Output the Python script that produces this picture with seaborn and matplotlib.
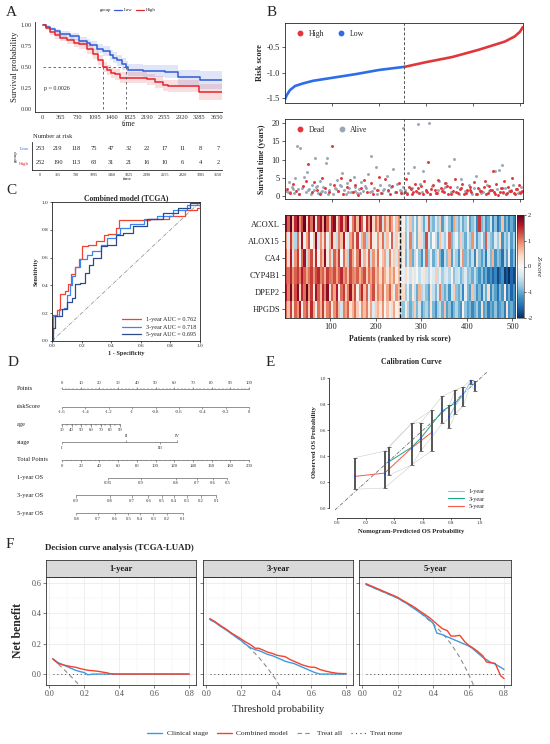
import numpy as np
import pandas as pd
import seaborn as sns
import matplotlib.pyplot as plt
from matplotlib.lines import Line2D

sns.set_theme(style="white")
plt.rcParams['font.family'] = ['Liberation Serif', 'DejaVu Serif']
plt.rcParams['axes.unicode_minus'] = False
plt.rcParams['axes.linewidth'] = 0.6
plt.rcParams['xtick.major.width'] = 0.5
plt.rcParams['ytick.major.width'] = 0.5
plt.rcParams['xtick.major.size'] = 2
plt.rcParams['ytick.major.size'] = 2

# ---------------- A: Kaplan-Meier ----------------
km_time_low = [0, 80, 153, 260, 364, 573, 762, 922, 1000, 1133, 1273, 1412, 1480, 1552, 1657, 1748, 1797, 2112, 2566, 2846, 3300, 3760]
km_surv_low = [1.00, 0.98, 0.96, 0.93, 0.90, 0.87, 0.81, 0.79, 0.76, 0.72, 0.69, 0.64, 0.61, 0.58, 0.54, 0.50, 0.46, 0.45, 0.44, 0.38, 0.34, 0.34]
km_lo_low = [1.00, 0.965, 0.94, 0.90, 0.865, 0.83, 0.765, 0.74, 0.71, 0.665, 0.63, 0.58, 0.545, 0.515, 0.47, 0.43, 0.39, 0.38, 0.365, 0.29, 0.24, 0.24]
km_hi_low = [1.00, 1.00, 0.985, 0.96, 0.935, 0.91, 0.855, 0.84, 0.81, 0.775, 0.75, 0.70, 0.675, 0.645, 0.61, 0.57, 0.535, 0.525, 0.52, 0.47, 0.45, 0.45]

km_time_high = [0, 60, 153, 250, 364, 503, 650, 762, 922, 1063, 1168, 1259, 1343, 1430, 1517, 1622, 2182, 2357, 2531, 2636, 3286, 3760]
km_surv_high = [1.00, 0.97, 0.92, 0.88, 0.85, 0.82, 0.79, 0.77, 0.72, 0.66, 0.58, 0.50, 0.46, 0.43, 0.41, 0.37, 0.35, 0.32, 0.28, 0.27, 0.20, 0.20]
km_lo_high = [1.00, 0.95, 0.89, 0.84, 0.81, 0.775, 0.74, 0.715, 0.66, 0.60, 0.52, 0.44, 0.40, 0.37, 0.345, 0.305, 0.285, 0.25, 0.21, 0.20, 0.11, 0.11]
km_hi_high = [1.00, 0.99, 0.95, 0.92, 0.89, 0.865, 0.84, 0.825, 0.78, 0.72, 0.64, 0.56, 0.52, 0.49, 0.475, 0.435, 0.415, 0.39, 0.35, 0.34, 0.30, 0.30]

median_high, median_low = 1259, 1748
p_text = "p = 0.0026"

risk_times = [0, 365, 730, 1095, 1460, 1825, 2190, 2555, 2920, 3285, 3650]
at_risk_low = [253, 219, 118, 75, 47, 32, 22, 17, 11, 8, 7]
at_risk_high = [252, 190, 113, 63, 31, 21, 16, 10, 6, 4, 2]

# ---------------- B: risk score, survival status, heatmap ----------------
risk_idx_low = [1, 4, 11, 22, 39, 60, 102, 151, 200, 253]
risk_val_low = [-1.51, -1.44, -1.34, -1.26, -1.21, -1.16, -1.10, -1.03, -0.95, -0.89]
risk_idx_high = [254, 299, 355, 411, 467, 488, 499, 503, 505]
risk_val_high = [-0.89, -0.80, -0.70, -0.56, -0.40, -0.30, -0.21, -0.15, -0.12]

alive_idx = [3, 8, 12, 15, 19, 22, 26, 29, 33, 36, 40, 44, 47, 52, 55, 58, 62, 64, 68, 71, 75, 79, 82, 85, 88, 90, 94, 97,
             102, 106, 110, 113, 117, 121, 125, 129, 133, 137, 141, 146, 150, 154, 158, 162, 167, 171, 176, 180, 184, 189,
             193, 198, 202, 207, 211, 216, 220, 225, 230, 234, 239, 244, 248, 250, 251, 256, 262, 268, 274, 280, 283, 288,
             294, 300, 305, 312, 320, 328, 335, 343, 348, 352, 359, 366, 374, 382, 390, 398, 405, 413, 421, 430, 438, 446,
             455, 460, 468, 476, 485, 494, 502,
             6, 17, 31, 49, 66, 77, 92, 108, 119, 135, 148, 160, 173, 186, 196, 209, 222, 237, 246, 259, 271, 291, 309, 325,
             339, 355, 370, 386, 402, 417, 434, 450, 464, 481, 498]
alive_yrs = [1.5, 3.8, 1.2, 2.6, 0.8, 5.0, 13.7, 1.9, 13.2, 2.3, 5.1, 1.1, 6.5, 2.0, 0.6, 3.1, 1.7, 10.4, 2.8, 0.9, 4.2, 1.4, 2.5, 1.0,
             9.0, 10.4, 1.8, 3.3, 0.7, 2.2, 4.5, 1.3, 2.9, 6.3, 1.6, 0.5, 3.6, 2.1, 1.2, 5.3, 2.4, 0.9, 1.9, 3.9, 1.4, 2.7, 6.0,
             1.0, 11.0, 2.3, 8.0, 1.6, 3.0, 0.8, 2.0, 5.4, 1.3, 2.6, 7.5, 1.1, 3.4, 1.8, 0.9, 18.6, 2.4, 1.7, 6.2, 2.3, 7.9, 1.0,
             19.7, 3.2, 7.0, 1.5, 20.0, 2.8, 0.8, 4.0, 1.9, 3.5, 8.3, 1.2, 10.1, 2.6, 4.6, 1.4, 2.9, 0.7, 5.5, 2.0, 1.1, 3.1,
             1.6, 6.8, 7.2, 8.5, 2.2, 1.3, 3.0, 0.9, 2.5,
             1.1, 2.0, 0.7, 1.6, 2.4, 1.2, 0.5, 1.9, 2.7, 1.0, 1.5, 0.8, 2.2, 1.3, 0.6, 1.7, 2.9, 1.1, 1.4, 0.9, 2.1, 1.2, 0.6,
             1.8, 2.6, 1.0, 0.7, 1.5, 2.3, 0.9, 1.3, 2.0, 0.8, 1.6, 1.1]
dead_idx = [5, 11, 17, 24, 31, 38, 45, 50, 57, 63, 69, 74, 80, 86, 93, 100, 105, 112, 119, 124, 131, 138, 144, 149, 156, 161,
            169, 174, 182, 187, 195, 200, 205, 213, 218, 223, 228, 236, 242, 247,
            255, 258, 264, 270, 276, 279, 285, 290, 296, 302, 304, 308, 314, 318, 323, 326, 331, 338, 341, 346, 350, 356, 362,
            367, 371, 377, 380, 386, 392, 396, 402, 408, 411, 417, 424, 427, 433, 436, 441, 444, 449, 452, 458, 463, 466, 471,
            474, 479, 482, 488, 491, 496, 499, 504,
            260, 267, 273, 282, 293, 299, 311, 321, 333, 344, 353, 364, 375, 384, 394, 405, 415, 422, 431, 439, 447, 456, 461,
            469, 477, 486, 493, 501]
dead_yrs = [2.0, 0.9, 3.2, 1.4, 0.5, 2.7, 4.0, 8.8, 1.1, 3.9, 1.7, 0.6, 4.9, 2.2, 1.0, 13.7, 3.0, 1.5, 5.0, 0.7, 2.4, 4.4, 1.2,
            3.0, 0.4, 2.1, 4.5, 1.0, 3.5, 0.6, 1.8, 5.2, 0.9, 4.8, 1.6, 0.5, 2.8, 1.2, 3.7, 0.8,
            1.1, 4.7, 2.4, 0.6, 3.3, 1.5, 0.8, 2.7, 4.2, 1.2, 9.3, 0.5, 3.0, 1.8, 0.9, 4.4, 2.2, 1.0, 3.6, 0.6, 2.5, 1.4, 4.8,
            0.8, 2.0, 3.2, 0.5, 1.6, 2.6, 1.0, 3.8, 0.7, 2.3, 1.3, 4.1, 0.6, 2.8, 1.7, 7.0, 1.0, 3.4, 0.4, 2.1, 1.2, 4.0, 0.8,
            2.6, 1.5, 5.0, 0.6, 1.9, 3.1, 0.9, 1.4,
            0.7, 1.9, 1.2, 2.3, 0.5, 1.6, 2.0, 0.9, 1.4, 2.7, 0.6, 1.1, 2.2, 0.8, 1.7, 0.5, 1.3, 2.4, 0.9, 1.8, 0.6, 1.2, 2.1,
            0.7, 1.5, 0.9, 2.0, 1.1]

genes = ['ACOXL', 'ALOX15', 'CA4', 'CYP4B1', 'DPEP2', 'HPGDS']
z_acoxl = [1.8, 1.2, 2.0, 0.6, 1.5, 1.9, 0.9, 1.3, 2.0, 0.4, 1.6, 1.1, 1.9, 0.2, 1.4, 1.7, 0.8, 2.0, 1.2, 0.5,
           1.5, 1.8, 0.3, 1.1, 1.6, 0.7, 1.3, 1.9, -0.2, 1.0, 1.4, 0.6, 1.7, 1.2, 0.1, 1.5, 0.9, 1.8, 0.4, 1.1,
           0.7, 1.3, -0.4, 1.0, 0.5, 1.2, 0.8, -0.1, 0.6, 0.9,
           -0.4, 0.1, -0.7, -0.3, 0.6, -0.8, -0.2, -0.9, 0.3, -0.5, -1.0, -0.4, 1.2, -0.6, -0.9, -0.3, -0.7, 0.5, -1.1, -0.5,
           -0.2, -0.8, -1.2, 0.8, -0.6, -0.9, -0.4, -1.0, -0.7, 0.2, -1.1, -0.8, -0.5, -1.3, 1.4, -0.9, -0.6, -1.2, -1.0, -0.4,
           -1.3, -0.8, -1.5, -1.1, 0.6, -1.2, -0.9, -1.4, -1.0, -1.3]
z_alox15 = [0.9, -0.3, 1.4, 0.5, -0.6, 1.1, 0.2, 1.7, -0.2, 0.8, 1.3, 0.0, 0.6, 1.8, -0.4, 0.9, 0.3, 1.2, -0.1, 0.7,
            1.5, 0.4, -0.5, 1.0, 0.6, 1.6, 0.1, -0.3, 0.8, 1.2, 0.3, 1.4, -0.2, 0.7, 1.0, -0.6, 0.5, 1.3, 0.2, -0.1,
            0.9, 0.4, 1.1, -0.4, 0.6, 0.0, 1.2, -0.3, 0.5, 0.2,
            -0.5, 0.3, -0.8, -0.2, 1.0, -0.6, -0.1, -0.9, 0.4, -0.4, -0.7, 1.3, -0.3, -0.8, 0.0, -0.5, -1.0, 0.6, -0.4, -0.7,
            -0.2, 1.1, -0.9, -0.5, -0.1, -0.8, 0.5, -0.6, -1.0, -0.3, -0.7, 0.9, -0.4, -1.1, -0.6, -0.2, -0.9, 1.2, -0.5, -0.8,
            -1.0, -0.3, -0.7, 0.4, -1.2, -0.6, -0.9, -0.4, -1.1, -0.7]
z_ca4 = [1.2, 0.4, 1.6, -0.3, 0.9, 1.4, 0.1, 1.1, 1.7, -0.5, 0.8, 1.3, 0.3, 1.5, -0.1, 1.0, 0.6, 1.8, 0.2, 0.9,
         -0.4, 1.2, 0.7, 1.4, 0.0, 1.1, 0.5, -0.6, 1.3, 0.8, 0.2, 1.0, 1.5, -0.2, 0.7, 0.3, 1.2, -0.5, 0.9, 0.4,
         1.1, -0.1, 0.6, 0.8, -0.3, 1.0, 0.2, 0.5, -0.4, 0.7,
         -0.6, 0.2, -0.9, -0.3, 0.8, -1.0, -0.5, 0.1, -0.8, -1.2, -0.4, 1.1, -0.7, -0.2, -1.0, -0.6, 0.4, -0.9, -1.3, -0.5,
         -0.8, 0.6, -1.1, -0.4, -0.7, -1.2, -0.3, 0.9, -0.9, -0.6, -1.0, -0.5, -1.3, 0.3, -0.8, -1.1, -0.7, -1.4, -0.4, -0.9,
         0.7, -1.2, -0.8, -1.0, -1.5, -0.6, -1.1, 0.2, -1.3, -0.9]
z_cyp4b1 = [1.3, 1.1, 1.5, 0.9, 1.2, 1.4, 1.0, 1.6, 1.2, 0.8, 1.1, 1.4, 0.9, 1.3, 1.5, 1.0, 1.2, 0.7, 1.4, 1.1,
            1.0, 1.3, 0.8, 1.2, 1.5, 0.9, 1.1, 0.6, 1.3, 1.0, 0.9, 1.2, 0.7, 1.0, 1.3, 0.5, 1.1, 0.8, 1.2, 0.6,
            0.9, 0.4, 1.0, 0.7, 0.3, 0.8, 0.5, 0.9, 0.2, 0.6,
            0.1, -0.2, 0.4, -0.1, -0.4, 0.2, -0.3, 0.0, -0.5, -0.2, 0.3, -0.4, -0.6, -0.1, -0.3, 0.5, -0.5, -0.2, -0.7, -0.4,
            -0.3, -0.6, 0.1, -0.8, -0.5, -0.4, -0.9, -0.6, -0.3, -0.8, -0.7, -1.0, -0.5, -0.9, -1.2, -0.8, -1.3, -1.0, -1.5, -1.2,
            -1.6, -1.3, -1.8, -1.5, -1.2, -1.9, -1.7, -2.0, -1.6, -1.8]
z_dpep2 = [1.6, 1.0, 1.9, 0.7, 1.3, 1.8, 0.4, 1.5, 1.1, 2.0, 0.9, 1.4, 0.2, 1.7, 1.2, 0.6, 1.5, 1.0, 1.8, 0.3,
           1.2, 0.8, 1.6, -0.1, 1.1, 1.4, 0.5, 1.0, 1.7, 0.7, 1.3, 0.1, 1.0, 1.5, 0.6, 1.2, -0.3, 0.9, 1.3, 0.4,
           1.0, 0.7, 1.1, 0.2, 0.8, 1.2, 0.5, -0.2, 0.9, 0.6,
           -0.3, 0.4, -0.7, -0.2, -0.9, 0.2, -0.5, -1.0, 0.7, -0.6, -0.4, -0.8, -1.1, 0.3, -0.5, -0.9, -0.3, 1.0, -0.7, -1.0,
           -0.6, -1.2, -0.4, 0.5, -0.8, -1.0, -0.6, -1.3, -0.2, -0.9, -1.1, 0.6, -0.7, -1.2, -0.9, -1.4, -0.5, -1.0, 0.4, -1.3,
           -0.8, -1.1, -1.5, -0.9, -1.2, 0.2, -1.4, -1.0, -1.6, -1.2]
z_hpgds = [1.1, 0.6, 1.4, 0.3, 1.2, 0.9, 1.6, 0.1, 1.0, 1.3, 0.5, 1.5, 0.8, -0.2, 1.1, 0.7, 1.4, 0.4, 1.0, 1.2,
           0.2, 0.9, 1.3, 0.6, -0.4, 1.0, 0.8, 1.2, 0.3, 0.7, 1.1, 0.5, -0.1, 0.9, 0.6, 1.0, 0.2, 0.8, -0.3, 0.5,
           0.7, 0.3, 0.9, 0.0, 0.6, -0.2, 0.4, 0.8, 0.1, 0.3,
           -0.5, -0.8, 0.2, -0.6, -1.0, -0.7, 0.5, -0.9, -0.4, -1.1, -0.8, -0.6, -1.0, 0.3, -0.9, -1.2, -0.7, -0.5, -1.0, 0.6,
           -1.1, -0.8, -1.3, -0.9, -0.6, -1.0, -1.2, 0.1, -0.8, -1.1, -0.9, -1.3, -1.0, -0.7, -1.2, 0.4, -1.1, -0.9, -1.4, -1.0,
           -1.2, -0.8, -1.3, -1.1, -0.9, -1.4, 0.3, -1.2, -1.0, -1.3]

# ---------------- C: ROC ----------------
roc1_fpr = [0.0, 0.0, 0.01, 0.034, 0.056, 0.09, 0.11, 0.13, 0.157, 0.18, 0.20, 0.24, 0.30, 0.35, 0.38, 0.43, 0.45, 0.64, 0.66, 0.79, 0.90, 0.98, 1.0]
roc1_tpr = [0.0, 0.16, 0.19, 0.22, 0.34, 0.36, 0.41, 0.48, 0.53, 0.59, 0.68, 0.69, 0.72, 0.76, 0.77, 0.81, 0.87, 0.87, 0.88, 0.90, 0.94, 0.96, 1.0]
roc3_fpr = [0.0, 0.0, 0.01, 0.045, 0.08, 0.10, 0.12, 0.135, 0.157, 0.19, 0.236, 0.27, 0.33, 0.37, 0.43, 0.46, 0.53, 0.62, 0.71, 0.82, 0.91, 1.0]
roc3_tpr = [0.0, 0.06, 0.18, 0.23, 0.24, 0.33, 0.40, 0.47, 0.53, 0.59, 0.62, 0.65, 0.69, 0.74, 0.77, 0.81, 0.84, 0.875, 0.90, 0.94, 0.975, 1.0]
roc5_fpr = [0.0, 0.01, 0.022, 0.067, 0.10, 0.135, 0.157, 0.19, 0.225, 0.247, 0.28, 0.33, 0.37, 0.43, 0.48, 0.55, 0.64, 0.75, 0.85, 0.93, 1.0]
roc5_tpr = [0.0, 0.09, 0.18, 0.23, 0.28, 0.31, 0.41, 0.42, 0.49, 0.55, 0.60, 0.68, 0.69, 0.76, 0.78, 0.83, 0.88, 0.92, 0.96, 0.99, 1.0]
roc_labels = ['1-year AUC = 0.762', '3-year AUC = 0.718', '5-year AUC = 0.695']

# ---------------- D: nomogram ----------------
nomo_rows = ['Points', 'riskScore', 'age', 'stage', 'Total Points', '1-year OS', '3-year OS', '5-year OS']
points_ticks = [0, 10, 20, 30, 40, 50, 60, 70, 80, 90, 100]
risk_ticks = [-1.6, -1.4, -1.2, -1, -0.8, -0.6, -0.4, -0.2, 0]
age_ticks = [30, 40, 50, 60, 70, 80, 90]
stage_labels = ['I', 'II', 'III', 'IV']
stage_points = [0, 34.3, 52.4, 61.6]
total_ticks = [0, 20, 40, 60, 80, 100, 120, 140, 160, 180, 200]
os1_labels = ['0.95', '0.9', '0.8', '0.7', '0.6', '0.5']
os1_total = [48.7, 84.2, 121.5, 144.7, 161.7, 176.9]
os3_labels = ['0.9', '0.8', '0.7', '0.6', '0.5', '0.4', '0.3', '0.2', '0.1']
os3_total = [15.3, 51.5, 74.6, 92.4, 106.6, 119.7, 133.9, 148.5, 165.1]
os5_labels = ['0.8', '0.7', '0.6', '0.5', '0.4', '0.3', '0.2', '0.1']
os5_total = [15.3, 38.4, 56.8, 71.0, 83.5, 97.7, 112.3, 129.3]

# ---------------- E: calibration ----------------
cal1_pred = [0.786, 0.826, 0.884, 0.935, 0.965]
cal1_obs = [0.705, 0.79, 0.877, 0.98, 0.944]
cal3_pred = [0.367, 0.523, 0.586, 0.737, 0.826, 0.884]
cal3_obs = [0.36, 0.47, 0.54, 0.75, 0.81, 0.877]
cal5_pred = [0.128, 0.333, 0.523, 0.663]
cal5_obs = [0.245, 0.27, 0.465, 0.585]
bar_pred = [0.128, 0.333, 0.367, 0.523, 0.586, 0.663, 0.737, 0.786, 0.826, 0.884, 0.935, 0.965]
bar_obs = [0.245, 0.26, 0.37, 0.465, 0.54, 0.585, 0.75, 0.705, 0.81, 0.877, 0.98, 0.944]
bar_lo = [0.146, 0.155, 0.256, 0.333, 0.44, 0.444, 0.654, 0.62, 0.726, 0.79, 0.96, 0.90]
bar_hi = [0.39, 0.44, 0.474, 0.654, 0.66, 0.756, 0.864, 0.795, 0.91, 0.936, 0.99, 0.98]

# ---------------- F: decision curves ----------------
dca_thr = [0.02, 0.05, 0.08, 0.10, 0.12, 0.15, 0.18, 0.20, 0.22, 0.25, 0.28, 0.30, 0.33, 0.35, 0.38, 0.40,
           0.42, 0.45, 0.48, 0.50, 0.52, 0.55, 0.58, 0.60, 0.62, 0.65, 0.68, 0.70, 0.72, 0.75, 0.78, 0.80]
clin_1y = [0.10, 0.075, 0.06, 0.05, 0.04, 0.025, 0.015, 0.01, -0.005, 0, 0, 0, 0, 0, 0, 0,
           0, 0, 0, 0, 0, 0, 0, 0, 0, 0, 0, 0, 0, 0, 0, 0]
comb_1y = [0.10, 0.07, 0.06, 0.055, 0.05, 0.045, 0.035, 0.03, 0.025, 0.022, 0.018, 0.014, 0.008, 0.002, 0, 0,
           0, 0, 0, 0, 0, 0, 0, 0, 0, 0, 0, 0, 0, 0, 0, 0]
clin_3y = [0.36, 0.34, 0.315, 0.30, 0.285, 0.26, 0.235, 0.22, 0.20, 0.175, 0.16, 0.155, 0.14, 0.13, 0.12, 0.11,
           0.10, 0.085, 0.075, 0.07, 0.06, 0.045, 0.03, 0.02, 0.01, 0.0, 0, 0, 0, 0, 0, 0]
comb_3y = [0.365, 0.345, 0.32, 0.305, 0.29, 0.265, 0.245, 0.23, 0.215, 0.195, 0.17, 0.17, 0.155, 0.145, 0.135, 0.125,
           0.12, 0.115, 0.095, 0.085, 0.075, 0.06, 0.05, 0.045, 0.045, 0.03, 0.02, 0.015, 0.01, 0.005, 0.003, 0.003]
clin_5y = [0.59, 0.575, 0.56, 0.55, 0.54, 0.525, 0.51, 0.50, 0.485, 0.465, 0.44, 0.425, 0.40, 0.385, 0.355, 0.335,
           0.27, 0.26, 0.245, 0.235, 0.225, 0.21, 0.195, 0.185, 0.17, 0.14, 0.11, 0.095, 0.08, 0.065, 0.045, 0.03]
comb_5y = [0.595, 0.58, 0.565, 0.555, 0.545, 0.53, 0.515, 0.505, 0.49, 0.47, 0.45, 0.435, 0.41, 0.395, 0.37, 0.35,
           0.33, 0.30, 0.285, 0.25, 0.25, 0.255, 0.21, 0.19, 0.175, 0.15, 0.12, 0.08, 0.075, 0.07, -0.01, -0.03]
all_1y_x = [0.02, 0.10, 0.15, 0.20]
all_1y_y = [0.10, 0.012, -0.047, -0.11]
all_3y_x = [0.02, 0.10, 0.20, 0.25, 0.30, 0.35, 0.375, 0.40, 0.42]
all_3y_y = [0.36, 0.305, 0.22, 0.17, 0.11, 0.04, 0.0, -0.04, -0.08]
all_5y_x = [0.02, 0.20, 0.30, 0.40, 0.45, 0.50, 0.55, 0.60, 0.63]
all_5y_y = [0.59, 0.50, 0.43, 0.33, 0.27, 0.20, 0.11, 0.0, -0.08]
dca_panels = ['1-year', '3-year', '5-year']

# =====================================================================
W, H = 550, 744
fig = plt.figure(figsize=(5.5, 7.44), dpi=100)


def box(l, t, r, b):
    return fig.add_axes([l / W, 1 - b / H, (r - l) / W, (b - t) / H])


def ftext(x, y, s, **kw):
    fig.text(x / W, 1 - y / H, s, **kw)


for lab, x, y in [('A', 6, 13), ('B', 267, 13), ('C', 6, 190), ('D', 8, 363), ('E', 266, 363), ('F', 6, 545)]:
    ftext(x, y, lab, fontsize=11, va='center', ha='left')

BLUE_KM, RED_KM = '#2F5BD6', '#E3262E'

# ---- A: KM ----
ax = box(35, 22, 222, 112)
ax.fill_between(km_time_low, km_lo_low, km_hi_low, step='post', color=BLUE_KM, alpha=0.15, lw=0)
ax.fill_between(km_time_high, km_lo_high, km_hi_high, step='post', color=RED_KM, alpha=0.15, lw=0)
sns.lineplot(x=km_time_low, y=km_surv_low, ax=ax, color=BLUE_KM, lw=1.1, drawstyle='steps-post',
             estimator=None, sort=False)
sns.lineplot(x=km_time_high, y=km_surv_high, ax=ax, color=RED_KM, lw=1.1, drawstyle='steps-post',
             estimator=None, sort=False)
ax.plot([0, median_low], [0.5, 0.5], ls=(0, (3, 3)), color='#555555', lw=0.6)
for m in (median_high, median_low):
    ax.plot([m, m], [0, 0.5], ls=(0, (3, 3)), color='#555555', lw=0.6)
ax.text(20, 0.24, p_text, fontsize=4.3, va='center')
ax.set_xlim(-161, 3761)
ax.set_ylim(-0.04, 1.04)
ax.set_xticks(risk_times)
ax.set_yticks([0, 0.25, 0.5, 0.75, 1.0])
ax.set_yticklabels(['0.00', '0.25', '0.50', '0.75', '1.00'])
ax.tick_params(labelsize=4.6, pad=1, length=1.5, colors='#333333')
sns.despine(ax=ax)
ax.set_xlabel('time', fontsize=5.6, labelpad=0)
ax.set_ylabel('Survival probability', fontsize=6.2, labelpad=1)
ftext(100, 10, 'group', fontsize=3.5, va='center')
ax.legend([Line2D([], [], color=BLUE_KM, lw=0.9), Line2D([], [], color=RED_KM, lw=0.9)], ['Low', 'High'],
          loc='center left', bbox_to_anchor=((112 - 35) / 187, 1 + 12 / 90), ncol=2, frameon=False,
          fontsize=3.5, handlelength=1.6, handletextpad=0.3, columnspacing=0.8, borderpad=0)

# risk table
axt = box(32, 142, 222, 170)
for t, n in zip(risk_times, at_risk_low):
    axt.text(t, 1, str(n), ha='center', va='center', fontsize=4.6)
for t, n in zip(risk_times, at_risk_high):
    axt.text(t, 0, str(n), ha='center', va='center', fontsize=4.6)
axt.set_xlim(-164, 3726)
axt.set_ylim(-0.5, 1.5)
axt.set_xticks(risk_times)
axt.set_yticks([1, 0])
axt.set_yticklabels(['Low', 'High'])
for lbl, c in zip(axt.get_yticklabels(), [BLUE_KM, RED_KM]):
    lbl.set_color(c)
axt.tick_params(axis='x', labelsize=3.0, pad=1, length=1.2)
axt.tick_params(axis='y', labelsize=3.6, pad=1, length=1.2)
sns.despine(ax=axt)
axt.set_xlabel('time', fontsize=3.6, labelpad=0)
axt.set_ylabel('group', fontsize=3.6, labelpad=1)
ftext(33, 136, 'Number at risk', fontsize=4.7, va='center')

# ---- B: risk score ----
RED_B, BLUE_B, GREY_B = '#E0383A', '#2C6EE8', '#9AA6B4'
cut = risk_idx_low[-1] + 0.5
axr = box(285, 23, 523, 103)
sns.lineplot(x=risk_idx_low, y=risk_val_low, ax=axr, color=BLUE_B, lw=1.9, estimator=None)
sns.lineplot(x=risk_idx_high, y=risk_val_high, ax=axr, color=RED_B, lw=1.9, estimator=None)
axr.axvline(cut, color='#555555', ls=(0, (3, 2)), lw=0.7)
axr.set_xlim(0.5, 505.5)
axr.set_ylim(-1.59, -0.04)
axr.set_xticks([100, 200, 300, 400, 500])
axr.set_xticklabels([])
axr.set_yticks([-1.5, -1.0, -0.5])
axr.tick_params(labelsize=6, pad=1.5, length=2, left=True, bottom=True, colors='#222222')
axr.set_ylabel('Risk score', fontsize=6, fontweight='bold', labelpad=2)
axr.legend([Line2D([], [], marker='o', ls='', color=RED_B, ms=3.2),
            Line2D([], [], marker='o', ls='', color=BLUE_B, ms=3.2)], ['High', 'Low'],
           loc='upper left', ncol=2, frameon=False, fontsize=5.6, handletextpad=0.1,
           columnspacing=1.2, borderaxespad=0.5, bbox_to_anchor=(0.0, 1.0))

# survival status
axs = box(285, 119, 523, 199)
sns.scatterplot(x=alive_idx, y=alive_yrs, ax=axs, color=GREY_B, s=4.5, linewidth=0)
sns.scatterplot(x=dead_idx, y=dead_yrs, ax=axs, color=RED_B, s=4.5, linewidth=0)
axs.axvline(cut, color='#555555', ls=(0, (3, 2)), lw=0.7)
axs.set_xlim(0.5, 505.5)
axs.set_ylim(-0.8, 21.1)
axs.set_xticks([100, 200, 300, 400, 500])
axs.set_xticklabels([])
axs.set_yticks([0, 5, 10, 15, 20])
axs.tick_params(labelsize=6, pad=1.5, length=2, left=True, bottom=True, colors='#222222')
axs.set_ylabel('Survival time (years)', fontsize=5.6, fontweight='bold', labelpad=4)
axs.legend([Line2D([], [], marker='o', ls='', color=RED_B, ms=3.2),
            Line2D([], [], marker='o', ls='', color=GREY_B, ms=3.2)], ['Dead', 'Alive'],
           loc='upper left', ncol=2, frameon=False, fontsize=5.6, handletextpad=0.1,
           columnspacing=1.2, borderaxespad=0.5)

# heatmap
axh = box(285, 215, 515, 318)
cax = box(517, 215, 524, 318)
zmat = np.array([z_acoxl, z_alox15, z_ca4, z_cyp4b1, z_dpep2, z_hpgds])
xedges = np.linspace(0.5, 505.5, zmat.shape[1] + 1)
yedges = np.arange(len(genes) + 1) - 0.5
cmap = sns.color_palette('RdBu_r', as_cmap=True)
mesh = axh.pcolormesh(xedges, yedges, zmat, cmap=cmap, vmin=-2, vmax=2, shading='flat')
axh.set_ylim(len(genes) - 0.5, -0.5)
axh.set_xlim(0.5, 505.5)
axh.axvline(cut, color='#111111', ls=(0, (3, 1.5)), lw=1.0)
axh.set_yticks(range(len(genes)))
axh.set_yticklabels(genes)
axh.set_xticks([100, 200, 300, 400, 500])
axh.tick_params(labelsize=6, pad=1.5, length=2, left=True, bottom=True, colors='#222222')
axh.set_xlabel('Patients (ranked by risk score)', fontsize=5.6, fontweight='bold', labelpad=3)
cb = fig.colorbar(mesh, cax=cax, ticks=[-2, -1, 0, 1, 2])
cb.outline.set_linewidth(0.4)
cax.tick_params(labelsize=4.6, length=1.5, pad=1)
cb.set_label('Z-score', fontsize=5, rotation=270, labelpad=6, style='italic')

# ---- C: ROC ----
axc = box(52, 202, 200, 341)
axc.plot([0, 1], [0, 1], color='#888888', lw=0.5, ls=(0, (6, 2, 1, 2)))
for fpr, tpr, col in [(roc1_fpr, roc1_tpr, '#F2432F'), (roc3_fpr, roc3_tpr, '#3A86F0'),
                      (roc5_fpr, roc5_tpr, '#2C4A8C')]:
    sns.lineplot(x=fpr, y=tpr, ax=axc, color=col, lw=0.9, drawstyle='steps-post', estimator=None, sort=False)
axc.set_xlim(0, 1)
axc.set_ylim(0, 1)
axc.set_xticks([0, 0.2, 0.4, 0.6, 0.8, 1.0])
axc.set_yticks([0, 0.2, 0.4, 0.6, 0.8, 1.0])
axc.tick_params(labelsize=3.8, pad=1, length=1.5, left=True, bottom=True, colors='#222222')
for sp in axc.spines.values():
    sp.set_color('#222222')
    sp.set_linewidth(0.6)
axc.set_title('Combined model (TCGA)', fontsize=5.5, fontweight='bold', pad=1.5)
axc.set_xlabel('1 - Specificity', fontsize=4.5, fontweight='bold', labelpad=1.5)
axc.set_ylabel('Sensitivity', fontsize=4.6, fontweight='bold', labelpad=2)
axc.legend([Line2D([], [], color=c, lw=0.9) for c in ['#F2432F', '#3A86F0', '#2C4A8C']], roc_labels,
           loc='lower right', frameon=False, fontsize=4.4, handlelength=3.2, borderaxespad=0.2,
           labelspacing=0.35)

# ---- D: nomogram ----
axn = box(62, 380, 249, 522)
axn.set_xlim(0, 100)
axn.set_ylim(7.5, -0.5)
axn.axis('off')
LC = '#555555'
for i, name in enumerate(nomo_rows):
    axn.text(-24.3, i, name, ha='left', va='center', fontsize=4.6, color='#222222')


def scale_row(row, xs, labels, above=False, minor=None):
    axn.plot([min(xs), max(xs)], [row, row], color=LC, lw=0.45, clip_on=False)
    d = -1 if above else 1
    axn.vlines(xs, row, row + d * 0.13, color=LC, lw=0.4, clip_on=False)
    if minor is not None:
        axn.vlines(minor, row, row + d * 0.07, color=LC, lw=0.3, clip_on=False)
    for x, s in zip(xs, labels):
        axn.text(x, row + d * 0.32, s, ha='center', va='center', fontsize=3.4, color='#333333', clip_on=False)


scale_row(0, points_ticks, [str(v) for v in points_ticks], above=True, minor=np.arange(0, 101, 2))
scale_row(1, [(v + 1.6) / 1.6 * 100 for v in risk_ticks], ['-1.6', '-1.4', '-1.2', '-1', '-0.8', '-0.6', '-0.4', '-0.2', '0'])
scale_row(2, [(v - 30) / 60 * 31 for v in age_ticks], [str(v) for v in age_ticks],
          minor=[(v - 30) / 60 * 31 for v in range(30, 91, 5)])
# stage: II and IV above, I and III below
axn.plot([stage_points[0], stage_points[-1]], [3, 3], color=LC, lw=0.45)
for k, (x, s) in enumerate(zip(stage_points, stage_labels)):
    d = -1 if k % 2 == 1 else 1
    axn.vlines(x, 3, 3 + d * 0.13, color=LC, lw=0.4)
    axn.text(x, 3 + d * 0.32, s, ha='center', va='center', fontsize=3.4, color='#333333')
scale_row(4, [t / 2 for t in total_ticks], [str(v) for v in total_ticks], minor=np.arange(0, 101, 2.5))
scale_row(5, [t / 2 for t in os1_total], os1_labels)
scale_row(6, [t / 2 for t in os3_total], os3_labels)
scale_row(7, [t / 2 for t in os5_total], os5_labels)

# ---- E: calibration ----
axe = box(335, 372, 488, 512)
axe.plot([-0.05, 1.1], [-0.05, 1.1], color='#555555', lw=0.5, ls=(0, (5, 2, 1, 2)))
for x_, lo_, hi_ in [(cal5_pred, [0.146, 0.155, 0.333, 0.444], [0.39, 0.44, 0.654, 0.756]),
                     (cal3_pred, [0.256, 0.333, 0.44, 0.654, 0.726, 0.79], [0.474, 0.654, 0.66, 0.864, 0.91, 0.936]),
                     (cal1_pred, [0.62, 0.726, 0.79, 0.96, 0.90], [0.795, 0.91, 0.936, 0.99, 0.98])]:
    axe.plot(x_, lo_, color='#CCCCCC', lw=0.4)
    axe.plot(x_, hi_, color='#CCCCCC', lw=0.4)
COL1, COL3, COL5 = '#86C8EA', '#1AA58B', '#F25A4A'
sns.lineplot(x=cal5_pred, y=cal5_obs, ax=axe, color=COL5, lw=0.7, estimator=None)
sns.lineplot(x=cal3_pred, y=cal3_obs, ax=axe, color=COL3, lw=0.7, estimator=None)
sns.lineplot(x=cal1_pred, y=cal1_obs, ax=axe, color=COL1, lw=0.7, estimator=None)
err = np.array([np.subtract(bar_obs, bar_lo), np.subtract(bar_hi, bar_obs)])
axe.errorbar(bar_pred, bar_obs, yerr=err, fmt='none', ecolor='#555555', elinewidth=1.4, capsize=1.2, capthick=0.6)
sns.scatterplot(x=bar_pred, y=bar_obs, ax=axe, color='#2740E8', marker='s', s=4, linewidth=0, zorder=5)
axe.set_xlim(-0.014, 1.056)
axe.set_ylim(-0.03, 1.05)
axe.set_xticks([0, 0.2, 0.4, 0.6, 0.8, 1.0])
axe.set_yticks([0, 0.2, 0.4, 0.6, 0.8, 1.0])
axe.set_xticklabels(['0.0', '0.2', '0.4', '0.6', '0.8', '1.0'])
axe.set_yticklabels(['0.0', '0.2', '0.4', '0.6', '0.8', '1.0'], rotation=90, va='center')
axe.tick_params(labelsize=3.6, pad=1, length=1.5, left=True, bottom=True, colors='#333333')
sns.despine(ax=axe, offset=4)
axe.spines['left'].set_bounds(0, 1)
axe.spines['bottom'].set_bounds(0, 1)
axe.set_title('Calibration Curve', fontsize=5.6, fontweight='bold', pad=6)
axe.set_xlabel('Nomogram-Predicted OS Probability', fontsize=4.8, fontweight='bold', labelpad=3)
axe.set_ylabel('Observed OS Probability', fontsize=4.8, fontweight='bold', labelpad=2)
axe.legend([Line2D([], [], color=c, lw=0.8) for c in [COL1, COL3, COL5]], ['1-year', '3-year', '5-year'],
           loc='lower right', frameon=False, fontsize=4.5, handlelength=2.6, labelspacing=0.3,
           borderaxespad=0.1)

# ---- F: decision curves ----
CLIN, COMB = '#3C9BE0', '#F2432F'
panel_x = [(46, 196), (203, 353), (359, 511)]
curves = [(clin_1y, comb_1y, all_1y_x, all_1y_y), (clin_3y, comb_3y, all_3y_x, all_3y_y),
          (clin_5y, comb_5y, all_5y_x, all_5y_y)]
for k, ((l, r), (clin, comb, ax_, ay_), name) in enumerate(zip(panel_x, curves, dca_panels)):
    axd = box(l, 577, r, 685)
    axd.set_xticks([0.0, 0.2, 0.4, 0.6, 0.8])
    axd.set_xticks([0.1, 0.3, 0.5, 0.7], minor=True)
    axd.set_yticks([0.0, 0.2, 0.4, 0.6])
    axd.set_yticks([0.1, 0.3, 0.5], minor=True)
    axd.grid(True, which='major', color='#EBEBEB', lw=0.6)
    axd.grid(True, which='minor', color='#F2F2F2', lw=0.35)
    axd.set_axisbelow(True)
    sns.lineplot(x=ax_, y=ay_, ax=axd, color='#8C8C8C', lw=0.8, ls=(0, (4, 3)), estimator=None)
    axd.plot([0.02, 0.8], [0, 0], color='#444444', lw=0.7, ls=(0, (1, 3)))
    sns.lineplot(x=dca_thr, y=clin, ax=axd, color=CLIN, lw=1.0, estimator=None)
    sns.lineplot(x=dca_thr, y=comb, ax=axd, color=COMB, lw=1.0, estimator=None)
    axd.set_xlim(-0.019, 0.839)
    axd.set_ylim(-0.072, 0.639)
    for sp in axd.spines.values():
        sp.set_color('#333333')
        sp.set_linewidth(0.6)
    axd.tick_params(axis='both', which='major', labelsize=5.8, length=2, pad=1.5, colors='#4D4D4D',
                    left=True, bottom=True)
    axd.tick_params(which='minor', length=0)
    axd.set_xticklabels(['0.0', '0.2', '0.4', '0.6', '0.8'])
    if k == 0:
        axd.set_yticklabels(['0.0', '0.2', '0.4', '0.6'])
    else:
        axd.set_yticklabels([])
    strip = box(l, 560, r, 577)
    strip.set_facecolor('#D9D9D9')
    strip.set_xticks([])
    strip.set_yticks([])
    for sp in strip.spines.values():
        sp.set_color('#333333')
        sp.set_linewidth(0.6)
    strip.text(0.5, 0.45, name, ha='center', va='center', fontsize=6.2, fontweight='bold',
               color='#1A1A1A', transform=strip.transAxes)

ftext(45, 548, 'Decision curve analysis (TCGA-LUAD)', fontsize=6.4, fontweight='bold', va='center')
ftext(18, 631, 'Net benefit', fontsize=8.5, fontweight='bold', rotation=90, va='center', ha='center')
ftext(278, 710, 'Threshold probability', fontsize=7.6, va='center', ha='center')
fig.legend([Line2D([], [], color=CLIN, lw=1.0), Line2D([], [], color=COMB, lw=1.0),
            Line2D([], [], color='#8C8C8C', lw=0.8, ls=(0, (4, 3))),
            Line2D([], [], color='#444444', lw=0.8, ls=(0, (1, 3)))],
           ['Clinical stage', 'Combined model', 'Treat all', 'Treat none'],
           loc='center', bbox_to_anchor=(275 / W, 1 - 733 / H), ncol=4, frameon=False, fontsize=5.4,
           handlelength=2.0, handletextpad=0.6, columnspacing=1.2)

fig.savefig('out.png', dpi=100)
